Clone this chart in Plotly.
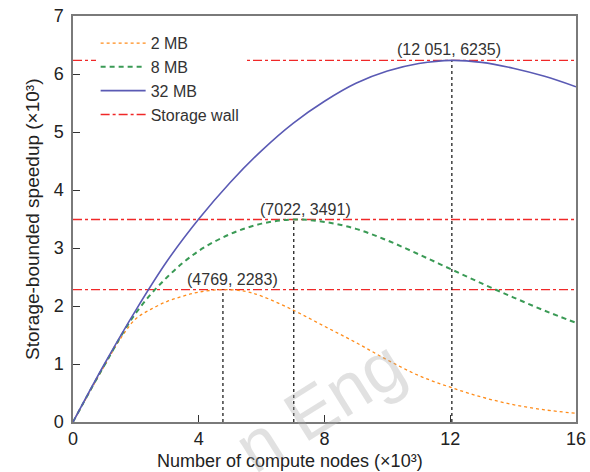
import plotly.graph_objects as go

# ---- data (x in 10^3 nodes, y in 10^3 speedup) ----
x_2mb = [0, 1, 1.5, 2, 2.5, 3, 3.5, 4, 4.769, 5.5, 6, 7, 8, 9, 10, 11, 12, 13, 14, 15, 16]
y_2mb = [0, 0.97, 1.43, 1.78, 1.95, 2.08, 2.17, 2.24, 2.283, 2.25, 2.17, 1.93, 1.65, 1.37, 1.07, 0.80, 0.60, 0.43, 0.30, 0.21, 0.15]

x_8mb = [0, 1, 2, 3, 4, 5, 6, 7.022, 8, 9, 10, 11, 12, 13, 14, 15, 16]
y_8mb = [0, 0.98, 1.88, 2.50, 2.95, 3.24, 3.42, 3.491, 3.45, 3.33, 3.13, 2.89, 2.64, 2.39, 2.15, 1.92, 1.71]

x_32mb = [0, 1, 2, 3, 4, 5, 6, 7, 8, 9, 10, 11, 12.051, 13, 14, 15, 16]
y_32mb = [0, 1.0, 1.93, 2.78, 3.50, 4.13, 4.68, 5.15, 5.53, 5.84, 6.05, 6.18, 6.235, 6.20, 6.10, 5.96, 5.78]

peak_x = [4.769, 7.022, 12.051]
peak_y = [2.283, 3.491, 6.235]
peak_labels = ["(4769, 2283)", "(7022, 3491)", "(12 051, 6235)"]
label_x = [5.06, 7.38, 11.96]

x_ticks = [0, 4, 8, 12, 16]
y_ticks = [0, 1, 2, 3, 4, 5, 6, 7]
x_range = [0, 16]
y_range = [0, 7]

FONT = "Arial, 'Liberation Sans', sans-serif"

fig = go.Figure()

# storage walls
wx, wy = [], []
for p in peak_y:
    wx += [x_range[0], x_range[1], None]
    wy += [p, p, None]
fig.add_trace(go.Scatter(x=wx, y=wy, mode="lines", name="Storage wall",
                         line=dict(color="#F02828", width=1.4, dash="dashdot"),
                         legendrank=4, legendgroup="d"))

# vertical dotted lines
vx, vy = [], []
for px_, py_ in zip(peak_x, peak_y):
    vx += [px_, px_, None]
    vy += [0, py_, None]
fig.add_trace(go.Scatter(x=vx, y=vy, mode="lines", showlegend=False,
                         line=dict(color="#222222", width=1.3, dash="dot")))

fig.add_trace(go.Scatter(x=x_2mb, y=y_2mb, mode="lines", name="2 MB",
                         line=dict(color="#FF8C1A", width=1.3, dash="dot", shape="spline"),
                         legendrank=1, legendgroup="a"))
fig.add_trace(go.Scatter(x=x_8mb, y=y_8mb, mode="lines", name="8 MB",
                         line=dict(color="#3A9A55", width=2, dash="5px,4px", shape="spline"),
                         legendrank=2, legendgroup="b"))
fig.add_trace(go.Scatter(x=x_32mb, y=y_32mb, mode="lines", name="32 MB",
                         line=dict(color="#5A5AB4", width=1.6, shape="spline"),
                         legendrank=3, legendgroup="c"))

for lx, py_, t in zip(label_x, peak_y, peak_labels):
    fig.add_annotation(x=lx, y=py_, text=t, showarrow=False, xanchor="center",
                       yanchor="bottom", yshift=0,
                       font=dict(family=FONT, size=16, color="#333333"))

# axis titles
fig.add_annotation(xref="paper", yref="paper", x=0.431, y=-0.095,
                   text="Number of compute nodes (×10³)", showarrow=False,
                   xanchor="center", yanchor="middle",
                   font=dict(family=FONT, size=18, color="#222222"))
fig.add_annotation(xref="paper", yref="paper", x=-0.0815, y=0.5,
                   text="Storage-bounded speedup (×10³)", showarrow=False,
                   textangle=-90, xanchor="center", yanchor="middle",
                   font=dict(family=FONT, size=19, color="#222222"))

# watermark
fig.add_annotation(xref="paper", yref="paper", x=0.49, y=0.04,
                   text="n Eng", showarrow=False, textangle=-32,
                   xanchor="center", yanchor="middle",
                   font=dict(family=FONT, size=70, color="rgba(170,170,170,0.35)"))

axis_common = dict(showgrid=False, zeroline=False, showline=True, mirror=True,
                   automargin=False,
                   linecolor="#7a7a7a", linewidth=1.5, ticks="inside", ticklen=7,
                   tickcolor="#333333", tickwidth=1,
                   tickfont=dict(family=FONT, size=18, color="#222222"))

fig.update_xaxes(range=x_range, tickvals=x_ticks, ticktext=[str(v) for v in x_ticks],
                 ticklabelstandoff=0, **axis_common)
fig.update_yaxes(range=y_range, tickvals=y_ticks, ticktext=[str(v) for v in y_ticks],
                 ticklabelstandoff=4, **axis_common)

fig.update_layout(
    width=590, height=472,
    margin=dict(l=73, r=14, t=16, b=50),
    paper_bgcolor="white", plot_bgcolor="white",
    font=dict(family=FONT, color="#222222"),
    legend=dict(x=0.045, y=0.975, xanchor="left", yanchor="top",
                bgcolor="white", borderwidth=0, tracegroupgap=0,
                itemwidth=45,
                font=dict(family=FONT, size=16, color="#333333")),
)

fig.write_html("out.html")
